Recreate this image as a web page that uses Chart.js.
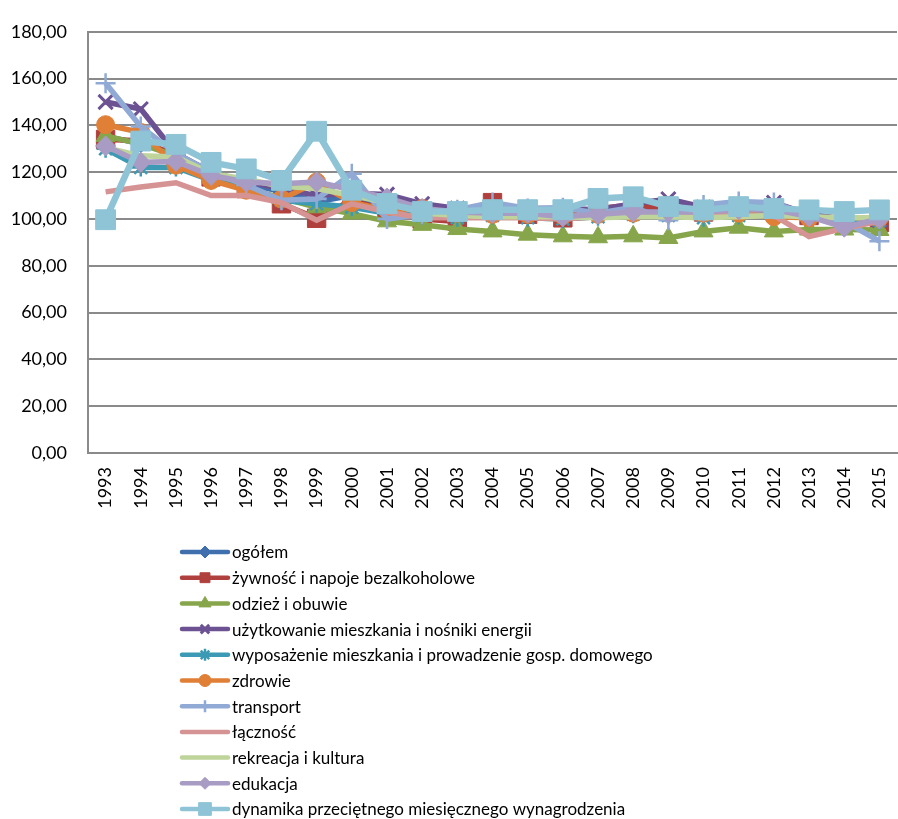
<!DOCTYPE html>
<html lang="pl">
<head>
<meta charset="utf-8">
<title>Dynamika cen i wynagrodzeń</title>
<script src="https://cdn.jsdelivr.net/npm/chart.js@4.4.1/dist/chart.umd.min.js"></script>
<style>
  html, body { margin: 0; padding: 0; background: #fff; }
  canvas { display: block; }
</style>
</head>
<body>
<canvas id="grafico1" width="898" height="819" style="width:898px;height:819px"></canvas>
<script>
// lata i serie (rok poprzedni = 100)
const lata = ['1993','1994','1995','1996','1997','1998','1999','2000','2001','2002','2003','2004','2005','2006','2007','2008','2009','2010','2011','2012','2013','2014','2015'];
const etykietyY = [0, 20, 40, 60, 80, 100, 120, 140, 160, 180];

const ogolem        = [135.3, 132.2, 127.8, 119.9, 114.9, 111.8, 107.3, 110.1, 105.5, 101.9, 100.8, 103.5, 102.1, 101.0, 102.5, 104.2, 103.5, 102.6, 104.3, 103.7, 100.9, 100.0, 99.1];
const zywnosc       = [134, 133.5, 127, 118, 113, 106.5, 100.3, 108, 103.5, 100, 99, 107, 102, 100.5, 104.5, 106, 104.5, 103, 105, 104, 101.5, 99, 98.5];
const odziez        = [135.5, 132, 127, 118, 113, 109, 105, 102.3, 99, 97.5, 95.7, 94.7, 93.3, 92.6, 92.2, 92.6, 91.9, 94.7, 96.3, 94.7, 95.5, 95.5, 95.3];
const uzytkowanie   = [150, 147, 128, 120, 116, 113, 110, 111, 110.5, 106.5, 104.5, 104, 104.5, 104.5, 104, 106.5, 108.5, 105, 106, 107, 102, 100, 99.5];
const wyposazenie   = [130, 122, 122, 116.5, 113, 108, 106.5, 105, 102.5, 101.5, 100.5, 101.5, 100.5, 100, 101, 102, 101.5, 100.5, 101.5, 102, 100.5, 100, 99.5];
const zdrowie       = [140.3, 137, 123, 116.5, 112.3, 108.5, 115.8, 107, 104, 104.5, 102.5, 102, 102, 101.5, 102, 102.5, 102.5, 102.5, 102.5, 101, 100.5, 100.5, 100.5];
const transport     = [158, 139.5, 128, 120, 114.5, 108, 108.5, 119.3, 100, 102, 104, 107, 104.5, 104.8, 102.5, 105, 99.5, 106, 107.5, 107, 101.5, 99, 90.5];
const lacznosc      = [111.6, 113.7, 115.5, 110, 110, 107, 99.5, 106.5, 103, 100.5, 100.5, 100.5, 100.5, 100, 101, 101.5, 101.5, 102, 101.5, 101.5, 92.5, 96, 99];
const rekreacja     = [130.5, 127, 126.5, 119.5, 117, 114, 113, 110, 107, 102.5, 101.5, 101, 101, 101, 100.5, 101, 101, 100.5, 101, 101.5, 101, 100.5, 100.5];
const edukacja      = [131.2, 124.2, 124.6, 118.6, 115.8, 115.1, 115.8, 112.5, 109, 104.5, 103, 102.5, 102.5, 101, 102, 103, 103, 103, 104, 104, 101, 96.5, 100];
const wynagrodzenie = [99.7, 133.3, 131.9, 124.2, 121.4, 116.5, 137.5, 112.3, 106.6, 103.2, 103.2, 104, 104, 104, 108.8, 109.5, 105.3, 103.9, 105.3, 104.5, 103.9, 103.2, 103.9];

const FUENTE = 'Lato, "Noto Sans", sans-serif';

function serie(label, data, color, pointStyle, radius, extra) {
    return Object.assign({
        label: label,
        data: data,
        borderColor: color,
        backgroundColor: color,
        pointBackgroundColor: color,
        pointBorderColor: color,
        borderWidth: 5.5,
        pointStyle: pointStyle || false,
        pointRadius: pointStyle ? radius : 0,
        pointHoverRadius: pointStyle ? radius : 0,
        pointBorderWidth: 1,
        tension: 0,
        fill: false,
        clip: false,
        legendRadius: 6
    }, extra || {});
}

const datasets = [
    serie('ogółem', ogolem, '#3F70AD', 'rectRot', 9),
    serie('żywność i napoje bezalkoholowe', zywnosc, '#B0403D', 'rect', 13, { legendRadius: 7 }),
    serie('odzież i obuwie', odziez, '#87A64B', 'triangle', 11, { legendRadius: 7 }),
    serie('użytkowanie mieszkania i nośniki energii', uzytkowanie, '#6C5293', 'crossRot', 10, { pointBorderWidth: 3 }),
    serie('wyposażenie mieszkania i prowadzenie gosp. domowego', wyposazenie, '#3C9AB4', 'star', 9, { pointBorderWidth: 2.5 }),
    serie('zdrowie', zdrowie, '#E07F36', 'circle', 9),
    serie('transport', transport, '#91AAD5', 'cross', 10, { pointBorderWidth: 2.5 }),
    serie('łączność', lacznosc, '#D69394', false, 0),
    serie('rekreacja i kultura', rekreacja, '#BED49B', false, 0),
    serie('edukacja', edukacja, '#A89BC4', 'rectRot', 10),
    serie('dynamika przeciętnego miesięcznego wynagrodzenia', wynagrodzenie, '#8EC4D6', 'rect', 14, { borderWidth: 6.5, legendRadius: 9 })
];
// ostatnia seria rysowana na wierzchu, jak w Excelu
datasets.forEach((d, i) => { d.order = datasets.length - i; });

// legenda w jednej kolumnie pod wykresem
const leyendaVertical = {
    id: 'leyendaVertical',
    afterDraw(chart) {
        const ctx = chart.ctx;
        const drawPoint = Chart.helpers && Chart.helpers.drawPoint;
        ctx.save();
        chart.data.datasets.forEach((ds, i) => {
            const y = 552 + i * 25.7;
            ctx.strokeStyle = ds.borderColor;
            ctx.lineWidth = 4.5;
            ctx.lineCap = 'round';
            ctx.beginPath();
            ctx.moveTo(182, y);
            ctx.lineTo(228, y);
            ctx.stroke();
            if (ds.pointStyle && drawPoint) {
                ctx.fillStyle = ds.borderColor;
                ctx.lineWidth = ds.pointBorderWidth;
                ctx.lineCap = 'butt';
                drawPoint(ctx, { pointStyle: ds.pointStyle, radius: ds.legendRadius, borderWidth: ds.pointBorderWidth, rotation: 0 }, 205, y);
            }
            ctx.fillStyle = '#000';
            ctx.font = '17px ' + FUENTE;
            ctx.textBaseline = 'middle';
            ctx.textAlign = 'left';
            ctx.fillText(ds.label, 232, y + 1);
        });
        ctx.restore();
    }
};

const grafico1 = document.getElementById('grafico1').getContext('2d');

window.graficaDynamika = new Chart(grafico1, {
    type: 'line',
    data: {
        labels: lata,
        datasets: datasets
    },
    options: {
        responsive: false,
        animation: false,
        layout: { autoPadding: false, padding: { top: 20, right: 1, bottom: 296, left: 0 } },
        plugins: {
            legend: { display: false },
            tooltip: { enabled: false },
            title: { display: false }
        },
        scales: {
            x: {
                offset: true,
                // kreski podziałki niewidoczne, służą tylko jako odstęp etykiet
                grid: { display: true, drawOnChartArea: false, drawTicks: true, tickLength: 14, color: 'rgba(0,0,0,0)' },
                border: { display: true, color: '#8A8A8A', width: 2 },
                ticks: {
                    autoSkip: false,
                    minRotation: 90,
                    maxRotation: 90,
                    padding: 0,
                    color: '#000',
                    font: { family: FUENTE, size: 18, lineHeight: 1 }
                },
                afterFit(scale) { scale.height = 70; }
            },
            y: {
                min: etykietyY[0],
                max: etykietyY[etykietyY.length - 1],
                afterBuildTicks(scale) { scale.ticks = etykietyY.map(v => ({ value: v })); },
                grid: { color: '#8A8A8A', lineWidth: 2, drawTicks: false },
                border: { display: true, color: '#8A8A8A', width: 2 },
                ticks: {
                    padding: 21,
                    color: '#000',
                    font: { family: FUENTE, size: 18 },
                    callback: v => v.toFixed(2).replace('.', ',')
                },
                afterFit(scale) { scale.width = 88; }
            }
        }
    },
    plugins: [leyendaVertical]
});
</script>
</body>
</html>
